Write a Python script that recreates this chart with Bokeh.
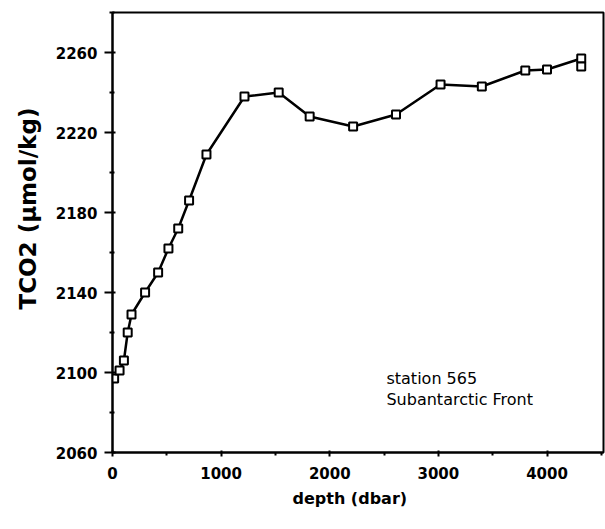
from bokeh.plotting import figure
from bokeh.models import Range1d, FixedTicker, Label, ColumnDataSource, Title
from bokeh.embed import file_html
from bokeh.resources import INLINE

# Data
depth = [15, 65, 105, 140, 175, 300, 420, 515, 605, 705, 865, 1215, 1530,
         1815, 2215, 2610, 3020, 3400, 3800, 4000, 4315, 4315]
tco2 = [2097, 2101, 2106, 2120, 2129, 2140, 2150, 2162, 2172, 2186, 2209,
        2238, 2240, 2228, 2223, 2229, 2244, 2243, 2251, 2251.5, 2257, 2253]

x_ticks = [0, 1000, 2000, 3000, 4000]
x_minor = [500, 1500, 2500, 3500, 4500]
y_ticks = [2060, 2100, 2140, 2180, 2220, 2260]
y_minor = [2080, 2120, 2160, 2200, 2240, 2280]

x_label = "depth (dbar)"
y_label = "TCO2  (\u03bcmol/kg)"
note_lines = ["station 565", "Subantarctic Front"]

p = figure(width=605, height=529, output_backend="svg", toolbar_location=None,
           x_range=Range1d(0, 4520), y_range=Range1d(2060, 2280),
           min_border_left=112, min_border_right=2, min_border_top=12,
           min_border_bottom=77)

p.xgrid.visible = False
p.ygrid.visible = False
p.outline_line_color = "black"
p.outline_line_width = 2
p.background_fill_color = "white"
p.border_fill_color = "white"

src = ColumnDataSource(dict(x=depth, y=tco2))
p.line("x", "y", source=src, line_color="black", line_width=2.5)
p.scatter("x", "y", source=src, marker="square", size=8, fill_color="white",
          line_color="black", line_width=2)

p.xaxis.ticker = FixedTicker(ticks=x_ticks, minor_ticks=x_minor)
p.yaxis.ticker = FixedTicker(ticks=y_ticks, minor_ticks=y_minor)

for ax in (p.xaxis[0], p.yaxis[0]):
    ax.axis_line_width = 2
    ax.axis_line_color = "black"
    ax.major_tick_line_color = "black"
    ax.minor_tick_line_color = "black"
    ax.major_tick_line_width = 2
    ax.minor_tick_line_width = 2
    ax.major_label_text_font = "DejaVu Sans"
    ax.major_label_text_font_style = "bold"
    ax.major_label_text_font_size = "15px"
    ax.major_label_text_color = "black"

p.yaxis.major_tick_out = 8
p.yaxis.major_tick_in = 3
p.yaxis.minor_tick_out = 3
p.yaxis.minor_tick_in = 2
p.yaxis.major_label_standoff = 7

p.xaxis.major_tick_out = 4
p.xaxis.major_tick_in = 2
p.xaxis.minor_tick_out = 3
p.xaxis.minor_tick_in = 0
p.xaxis.major_label_standoff = 10

p.add_layout(Title(text=x_label, align="left", offset=180, standoff=11,
                   text_font="DejaVu Sans", text_font_style="bold",
                   text_font_size="16px", text_color="black"), "below")
p.add_layout(Title(text=y_label, align="left", offset=143, standoff=24,
                   text_font="DejaVu Sans", text_font_style="bold",
                   text_font_size="23px", text_color="black"), "left")

for txt, yv in zip(note_lines, [2097, 2086.75]):
    p.add_layout(Label(x=2522, y=yv, text=txt, text_align="left",
                       text_baseline="middle", text_font="DejaVu Sans",
                       text_font_size="16px", text_color="black"))

open("out.html", "w").write(file_html(p, INLINE))
